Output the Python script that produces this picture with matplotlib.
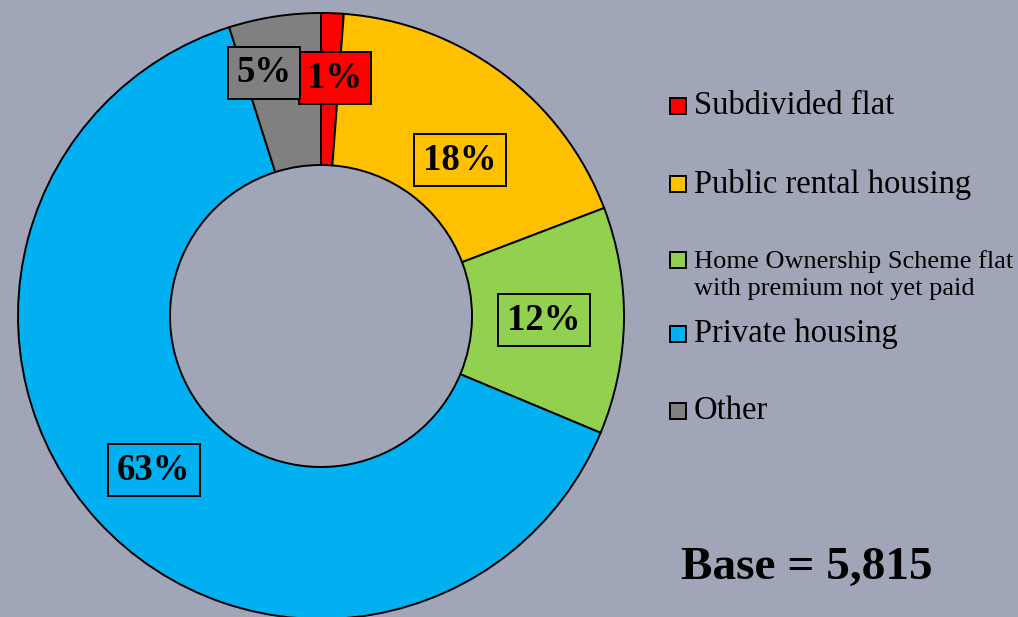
import matplotlib
matplotlib.use("Agg")
import matplotlib.pyplot as plt
from matplotlib.patches import Rectangle

# data
categories = ["Subdivided flat", "Public rental housing",
              "Home Ownership Scheme flat\nwith premium not yet paid",
              "Private housing", "Other"]
shares = [1.2, 18.0, 12.1, 63.8, 4.9]
pct_labels = ["1%", "18%", "12%", "63%", "5%"]
base_text = "Base = 5,815"

colours = ["#FF0000", "#FFC000", "#92D050", "#00B0F0", "#808080"]
bg = "#A1A5B8"

plt.rcParams["font.family"] = ["Liberation Serif", "DejaVu Serif"]

fig = plt.figure(figsize=(10.18, 6.17), dpi=100)
fig.patch.set_facecolor(bg)
ax = fig.add_axes([0, 0, 1, 1])
ax.set_facecolor(bg)

# donut, drawn in pixel units
wedges, _ = ax.pie(shares, colors=colours, startangle=90, counterclock=False,
                   center=(321, 301), radius=303, frame=True,
                   wedgeprops=dict(width=152, edgecolor="black", linewidth=1.4))
ax.set_xlim(0, 1018)
ax.set_ylim(0, 617)
ax.set_aspect("equal")
ax.axis("off")

# label box positions (pixel coords, y from bottom)
label_pos = [(335, 539), (460, 457), (544, 297), (154, 147), (264, 544)]
for txt, (x, y), c in zip(pct_labels, label_pos, colours):
    ax.text(x, y, txt, ha="center", va="center", fontsize=26.5, fontweight="bold",
            bbox=dict(boxstyle="square,pad=0.24", facecolor=c, edgecolor="black",
                      linewidth=1.4), zorder=5)

# legend, drawn by hand
leg_y = [511, 433, 342, 283, 206]
leg_size = [23.5, 23.5, 19, 23.5, 23.5]
for name, c, y, fs in zip(categories, colours, leg_y, leg_size):
    yy = y + 15 if "\n" in name else y
    ax.add_patch(Rectangle((670, yy - 8), 16, 16, facecolor=c, edgecolor="black",
                           linewidth=1.4))
    ax.text(694, y, name, ha="left", va="center", fontsize=fs, linespacing=1.3)

ax.text(681, 49, base_text, ha="left", va="center", fontsize=34, fontweight="bold")

fig.savefig("out.png", dpi=100, facecolor=bg)
